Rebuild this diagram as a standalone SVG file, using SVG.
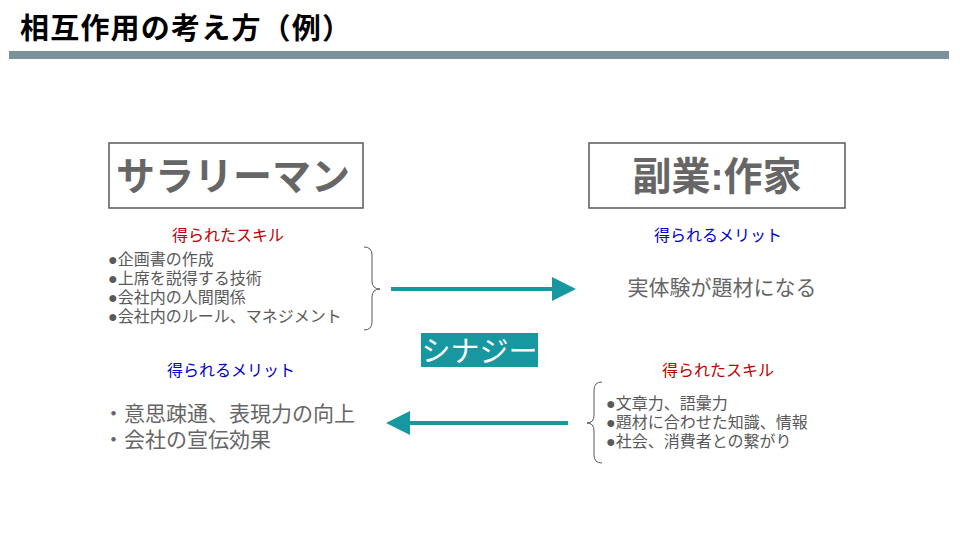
<svg xmlns="http://www.w3.org/2000/svg" width="960" height="540" viewBox="0 0 960 540">
<style>
text{font-family:"Liberation Sans","Noto Sans CJK JP",sans-serif}
.title{font-size:29px;font-weight:bold;fill:#000;letter-spacing:1.2px}
.box{fill:#fff;stroke:#595959;stroke-width:1.5}
.big{font-size:39px;font-weight:bold;fill:#666;text-anchor:middle}
.red{font-size:16px;fill:#c00000;text-anchor:middle}
.blue{font-size:16px;fill:#0000cc;text-anchor:middle}
.lst{font-size:16px;fill:#595959}
.mid{font-size:21px;fill:#666}
.brace{fill:none;stroke:#595959;stroke-width:1}
.arr{stroke:#17979f;stroke-width:4;fill:none}
</style>
<defs>
<marker id="ah" markerWidth="6" markerHeight="6" refX="5" refY="3" orient="auto" markerUnits="strokeWidth">
<path d="M0,0 L6,3 L0,6 Z" fill="#17979f"/>
</marker>
</defs>
<rect width="960" height="540" fill="#fff"/>
<text class="title" x="20" y="39">相互作用の考え方（例）</text>
<rect x="9" y="51" width="940" height="8" fill="#7a929b"/>

<g id="salaryman">
<rect class="box" x="109" y="143" width="254" height="65"/>
<text class="big" x="233" y="190">サラリーマン</text>
</g>
<g id="sakka">
<rect class="box" x="589" y="143" width="256" height="65"/>
<text class="big" x="717" y="190">副業:作家</text>
</g>

<g id="skill-left">
<text class="red" x="228" y="241">得られたスキル</text>
<text class="lst" x="108" y="265">●企画書の作成</text>
<text class="lst" x="108" y="284">●上席を説得する技術</text>
<text class="lst" x="108" y="303">●会社内の人間関係</text>
<text class="lst" x="108" y="322">●会社内のルール、マネジメント</text>
</g>

<g id="merit-right">
<text class="blue" x="718" y="241">得られるメリット</text>
<text class="mid" x="722" y="295" text-anchor="middle">実体験が題材になる</text>
</g>

<g id="synergy">
<rect x="421" y="333" width="117" height="34" fill="#17979f"/>
<text x="479.5" y="362" font-size="29" fill="#fff" text-anchor="middle">シナジー</text>
</g>

<g id="merit-left">
<text class="blue" x="231" y="376">得られるメリット</text>
<text class="mid" x="103" y="421">・意思疎通、表現力の向上</text>
<text class="mid" x="103" y="447">・会社の宣伝効果</text>
</g>

<g id="skill-right">
<text class="red" x="718" y="376">得られたスキル</text>
<text class="lst" x="606" y="409">●文章力、語彙力</text>
<text class="lst" x="606" y="428">●題材に合わせた知識、情報</text>
<text class="lst" x="606" y="447">●社会、消費者との繋がり</text>
</g>

<g id="connectors">
<path class="brace" d="M364,247 Q372,247 372,255 L372,281 Q372,289 380,289 Q372,289 372,297 L372,322 Q372,330 364,330"/>
<path class="brace" d="M602,382 Q594,382 594,390 L594,415 Q594,423 587,423 Q594,423 594,431 L594,455 Q594,463 602,463"/>
<line class="arr" x1="391" y1="289" x2="572" y2="289" marker-end="url(#ah)"/>
<line class="arr" x1="568" y1="423" x2="390" y2="423" marker-end="url(#ah)"/>
</g>
</svg>
